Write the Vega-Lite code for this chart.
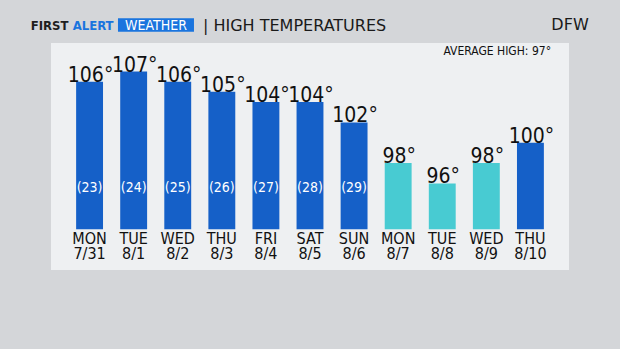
{
  "$schema": "https://vega.github.io/schema/vega-lite/v6.json",
  "width": 518,
  "height": 227,
  "autosize": {"type": "none"},
  "padding": {"left": 51, "top": 43, "right": 51, "bottom": 79},
  "background": "#d4d6d9",
  "config": {
    "view": {"fill": "#eef0f2", "stroke": null},
    "locale": {"number": {"decimal": ".", "thousands": ",", "grouping": [3], "currency": ["", "°"]}},
    "text": {"font": "DejaVu Sans Condensed", "color": "#111111"}
  },
  "data": {
    "values": [
      {"date": "7/31", "temp": 106, "note": "(23)", "range": "100+"},
      {"date": "8/1", "temp": 107, "note": "(24)", "range": "100+"},
      {"date": "8/2", "temp": 106, "note": "(25)", "range": "100+"},
      {"date": "8/3", "temp": 105, "note": "(26)", "range": "100+"},
      {"date": "8/4", "temp": 104, "note": "(27)", "range": "100+"},
      {"date": "8/5", "temp": 104, "note": "(28)", "range": "100+"},
      {"date": "8/6", "temp": 102, "note": "(29)", "range": "100+"},
      {"date": "8/7", "temp": 98, "range": "under 100"},
      {"date": "8/8", "temp": 96, "range": "under 100"},
      {"date": "8/9", "temp": 98, "range": "under 100"},
      {"date": "8/10", "temp": 100, "range": "100+"}
    ]
  },
  "encoding": {
    "x": {
      "field": "date",
      "type": "nominal",
      "scale": {
        "domain": ["7/31", "8/1", "8/2", "8/3", "8/4", "8/5", "8/6", "8/7", "8/8", "8/9", "8/10"],
        "paddingInner": 0.39,
        "paddingOuter": 0.57
      },
      "axis": {
        "orient": "bottom",
        "offset": -41,
        "title": null,
        "domain": false,
        "ticks": false,
        "labelAngle": 0,
        "labelOverlap": false,
        "labelBound": false,
        "labelPadding": 1.5,
        "labelBaseline": "top",
        "labelFont": "DejaVu Sans Condensed",
        "labelFontSize": 16,
        "labelColor": "#111111",
        "labelLineHeight": 14.5,
        "labelExpr": "[upper(timeFormat(datetime(2023, toNumber(split(datum.label, '/')[0]) - 1, toNumber(split(datum.label, '/')[1])), '%a')), datum.label]"
      }
    }
  },
  "layer": [
    {
      "mark": {"type": "bar"},
      "encoding": {
        "y": {"field": "temp", "type": "quantitative", "scale": {"domain": [87.5, 109.8], "nice": false, "zero": false}, "axis": null},
        "y2": {"datum": 91.5},
        "color": {"field": "range", "type": "nominal", "scale": {"domain": ["100+", "under 100"], "range": ["#1560c8", "#48cbd2"]}, "legend": null}
      }
    },
    {
      "mark": {"type": "text", "baseline": "alphabetic", "fontSize": 21, "dx": 1},
      "encoding": {
        "y": {"field": "temp", "type": "quantitative", "scale": {"domain": [87.5, 109.8], "nice": false, "zero": false}, "axis": null},
        "text": {"field": "temp", "type": "quantitative", "format": "$d"}
      }
    },
    {
      "transform": [{"filter": "isValid(datum.note)"}],
      "mark": {"type": "text", "baseline": "middle", "fontSize": 14, "color": "#ffffff"},
      "encoding": {
        "y": {"datum": 95.56, "type": "quantitative", "scale": {"domain": [87.5, 109.8], "nice": false, "zero": false}, "axis": null},
        "text": {"field": "note", "type": "nominal"}
      }
    },
    {
      "data": {"values": [{}]},
      "mark": {"type": "text", "baseline": "alphabetic", "align": "right", "fontSize": 12, "dx": 20.6, "text": "AVERAGE HIGH: 97°"},
      "encoding": {
        "x": {"datum": "8/10", "type": "nominal"},
        "y": {"datum": 108.62, "type": "quantitative", "scale": {"domain": [87.5, 109.8], "nice": false, "zero": false}, "axis": null}
      }
    },
    {
      "data": {"values": [{}]},
      "mark": {"type": "bar", "width": 76, "xOffset": 66.4, "color": "#1a74de", "clip": false},
      "encoding": {
        "x": {"datum": "7/31", "type": "nominal"},
        "y": {"datum": 112.23, "type": "quantitative", "scale": {"domain": [87.5, 109.8], "nice": false, "zero": false}, "axis": null},
        "y2": {"datum": 110.91}
      }
    },
    {
      "data": {"values": [{}]},
      "mark": {"type": "text", "baseline": "alphabetic", "align": "left", "fontSize": 13, "fontWeight": "bold", "color": "#1e1e1e", "dx": -58.9, "text": "FIRST"},
      "encoding": {
        "x": {"datum": "7/31", "type": "nominal"},
        "y": {"datum": 111.03, "type": "quantitative", "scale": {"domain": [87.5, 109.8], "nice": false, "zero": false}, "axis": null}
      }
    },
    {
      "data": {"values": [{}]},
      "mark": {"type": "text", "baseline": "alphabetic", "align": "left", "fontSize": 13, "fontWeight": "bold", "color": "#1a74de", "dx": -16.9, "text": "ALERT"},
      "encoding": {
        "x": {"datum": "7/31", "type": "nominal"},
        "y": {"datum": 111.03, "type": "quantitative", "scale": {"domain": [87.5, 109.8], "nice": false, "zero": false}, "axis": null}
      }
    },
    {
      "data": {"values": [{}]},
      "mark": {"type": "text", "baseline": "alphabetic", "align": "center", "fontSize": 14, "color": "#ffffff", "dx": 66.4, "text": "WEATHER"},
      "encoding": {
        "x": {"datum": "7/31", "type": "nominal"},
        "y": {"datum": 111.03, "type": "quantitative", "scale": {"domain": [87.5, 109.8], "nice": false, "zero": false}, "axis": null}
      }
    },
    {
      "data": {"values": [{}]},
      "mark": {"type": "text", "baseline": "alphabetic", "align": "left", "font": "DejaVu Sans", "fontSize": 16, "color": "#1a1a1a", "dx": 113.4, "text": "| HIGH TEMPERATURES"},
      "encoding": {
        "x": {"datum": "7/31", "type": "nominal"},
        "y": {"datum": 110.97, "type": "quantitative", "scale": {"domain": [87.5, 109.8], "nice": false, "zero": false}, "axis": null}
      }
    },
    {
      "data": {"values": [{}]},
      "mark": {"type": "text", "baseline": "alphabetic", "align": "center", "font": "DejaVu Sans", "fontSize": 16, "color": "#1a1a1a", "dx": 39.6, "text": "DFW"},
      "encoding": {
        "x": {"datum": "8/10", "type": "nominal"},
        "y": {"datum": 111.03, "type": "quantitative", "scale": {"domain": [87.5, 109.8], "nice": false, "zero": false}, "axis": null}
      }
    }
  ]
}
